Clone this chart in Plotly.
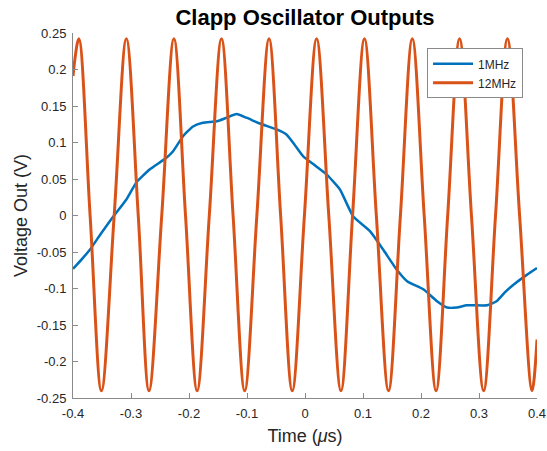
import plotly.graph_objects as go

# 1 MHz trace
t_1mhz = [-0.400, -0.385, -0.371, -0.352, -0.334, -0.308, -0.291, -0.268, -0.239, -0.2275, -0.210, -0.193,
          -0.176, -0.152, -0.135, -0.118, -0.101, -0.078, -0.049, -0.032, -0.018, -0.003, 0.018, 0.0375,
          0.060, 0.083, 0.112, 0.135, 0.158, 0.176, 0.204, 0.227, 0.245, 0.262,
          0.279, 0.314, 0.331, 0.345, 0.360, 0.383, 0.400]
v_1mhz = [-0.073, -0.060, -0.047, -0.025, -0.005, 0.022, 0.045, 0.063, 0.079, 0.088, 0.109, 0.122,
          0.127, 0.129, 0.134, 0.139, 0.134, 0.126, 0.118, 0.111, 0.097, 0.081, 0.068, 0.056,
          0.036, -0.001, -0.0215, -0.047, -0.074, -0.090, -0.101, -0.117, -0.126, -0.126,
          -0.123, -0.123, -0.117, -0.105, -0.0945, -0.081, -0.072]

# 12 MHz trace: start/end, peaks, troughs and zero crossings
t_12mhz = [-0.400, -0.390, -0.3705, -0.351, -0.329, -0.308, -0.2875, -0.269, -0.247, -0.226,
           -0.206, -0.186, -0.165, -0.144, -0.124, -0.104, -0.083, -0.062, -0.042, -0.022,
           -0.001, 0.020, 0.041, 0.062, 0.082, 0.1025, 0.123, 0.144, 0.1645, 0.185,
           0.2055, 0.226, 0.246, 0.2665, 0.287, 0.308, 0.3285, 0.349, 0.370, 0.3915, 0.400]
v_12mhz = [0.191, 0.242, 0.0, -0.240, 0.0, 0.242, 0.0, -0.240, 0.0, 0.242,
           0.0, -0.240, 0.0, 0.242, 0.0, -0.240, 0.0, 0.242, 0.0, -0.240,
           0.0, 0.242, 0.0, -0.240, 0.0, 0.242, 0.0, -0.240, 0.0, 0.242,
           0.0, -0.240, 0.0, 0.242, 0.0, -0.240, 0.0, 0.242, 0.0, -0.240, -0.170]

x_ticks = [-0.4, -0.3, -0.2, -0.1, 0, 0.1, 0.2, 0.3, 0.4]
x_ticklabels = ["-0.4", "-0.3", "-0.2", "-0.1", "0", "0.1", "0.2", "0.3", "0.4"]
y_ticks = [-0.25, -0.2, -0.15, -0.1, -0.05, 0, 0.05, 0.1, 0.15, 0.2, 0.25]
y_ticklabels = ["-0.25", "-0.2", "-0.15", "-0.1", "-0.05", "0", "0.05", "0.1", "0.15", "0.2", "0.25"]

FONT = "Liberation Sans, Arial, Helvetica, sans-serif"
AX = "#262626"

fig = go.Figure()
fig.add_trace(go.Scatter(x=t_1mhz, y=v_1mhz, mode="lines", name="1MHz",
                         line=dict(color="#0072BD", width=2.5, shape="spline", smoothing=0.5)))
fig.add_trace(go.Scatter(x=t_12mhz, y=v_12mhz, mode="lines", name="12MHz",
                         line=dict(color="#D95319", width=3, shape="spline", smoothing=1.0)))

axis_common = dict(showline=True, linecolor="#8a8a8a", linewidth=1, ticks="inside", ticklen=5,
                   tickcolor="#8a8a8a", showgrid=False, zeroline=False, automargin=False,
                   tickfont=dict(family=FONT, size=13, color=AX))

fig.update_layout(
    width=547, height=451,
    margin=dict(l=73, r=10, t=33, b=53),
    paper_bgcolor="white", plot_bgcolor="white",
    title=dict(text="<b>Clapp Oscillator Outputs</b>", x=0.5576, xanchor="center", y=0.962, yanchor="middle",
               font=dict(family=FONT, size=22, color="black")),
    xaxis=dict(range=[-0.4, 0.4], tickvals=x_ticks, ticktext=x_ticklabels, ticklabelstandoff=3,
               title=dict(text="Time (<i>μ</i>s)", font=dict(family=FONT, size=18, color=AX), standoff=9),
               **axis_common),
    yaxis=dict(range=[-0.25, 0.25], tickvals=y_ticks, ticktext=y_ticklabels, ticklabelstandoff=3,
               title=dict(text="Voltage Out (V)", font=dict(family=FONT, size=18, color=AX), standoff=4),
               **axis_common),
    legend=dict(x=0.763, y=0.958, xanchor="left", yanchor="top", bgcolor="white",
                bordercolor="#8a8a8a", borderwidth=1, font=dict(family=FONT, size=12, color=AX),
                tracegroupgap=0, itemwidth=40),
    showlegend=True,
)

# remove the default page margin so the 547x451 figure fills the window exactly
fig.write_html("out.html",
               config={"displayModeBar": False},
               post_script="document.body.style.margin='0';document.body.style.overflow='hidden';")
